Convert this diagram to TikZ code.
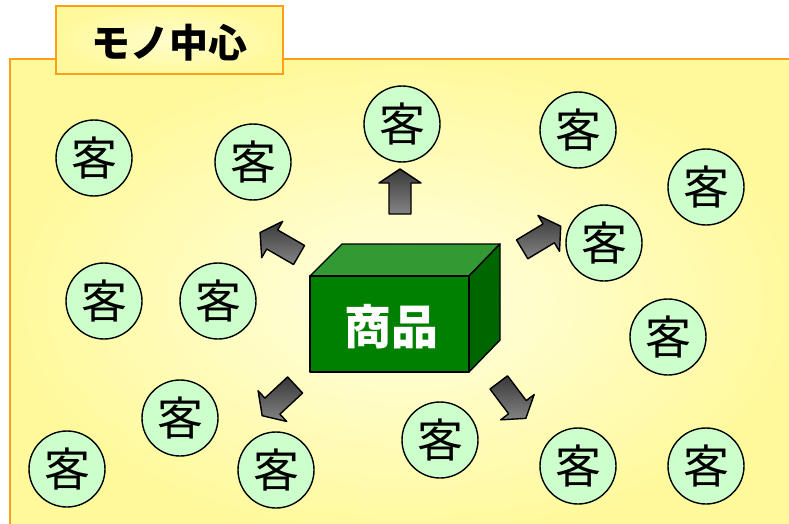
\documentclass[tikz,border=0pt]{standalone}
\usepackage{fontspec}
\newfontfamily\jpfont{Noto Sans CJK JP}
\definecolor{panelY}{HTML}{FFF99C}
\definecolor{panelC}{HTML}{FFFFE2}
\definecolor{edgeO}{HTML}{FF9E1A}
\definecolor{custG}{HTML}{CCFFCC}
\definecolor{frontG}{HTML}{008000}
\definecolor{topG}{HTML}{339933}
\definecolor{sideG}{HTML}{006600}
\tikzset{
  cust/.style={circle, draw=black, line width=1.4pt, fill=custG, minimum size=76pt, inner sep=0pt, font=\jpfont\fontsize{46}{46}\selectfont},
  boxface/.style={draw=black, line width=1.4pt, line join=round},
  arrowshape/.style={draw=black, line width=1.4pt, line join=round, top color=black!78, bottom color=black!48},
  barrow/.pic={\path[arrowshape] (-22,-11) -- (9,-11) -- (9,-21) -- (23,0) -- (9,21) -- (9,11) -- (-22,11) -- cycle;}
}
\begin{document}
\begin{tikzpicture}[x=1pt,y=-1pt]
\useasboundingbox (0,0) rectangle (789,524);
\begin{scope}
\clip (0,0) rectangle (789,524);
% panel
\path[shading=radial, inner color=panelC, outer color=panelY] (10,59) rectangle (800,540);
\draw[edgeO, line width=2pt] (800,59) -- (10,59) -- (10,540);
% title tab
\path[shading=radial, inner color=panelC!70!panelY, outer color=panelY] (56,6) rectangle (283,74);
\draw[edgeO, line width=2pt] (56,6) rectangle (283,74);
\node (title) at (169.5,43) {\jpfont\fontsize{39}{39}\selectfont\bfseries モノ中心};
% product box
\draw[boxface, fill=topG] (310,276) -- (342,244) -- (500,244) -- (469,276) -- cycle;
\draw[boxface, fill=sideG] (469,276) -- (500,244) -- (500,340) -- (469,372) -- cycle;
\draw[boxface, fill=frontG] (310,276) rectangle (469,372);
\node[text=white] (product) at (391,327) {\jpfont\fontsize{47}{47}\selectfont\bfseries 商品};
% arrows
\pic at (400,192) [rotate=90] {barrow};
\pic at (280,244) [rotate=150] {barrow};
\pic at (541,238) [rotate=31] {barrow};
\pic at (279,400) [rotate=223] {barrow};
\pic at (512,400) [rotate=-53] {barrow};
% customers
\node[cust] (c1) at (94,158) {客};
\node[cust] (c2) at (253,162) {客};
\node[cust] (c3) at (402,124) {客};
\node[cust] (c4) at (578,130) {客};
\node[cust] (c5) at (706,187) {客};
\node[cust] (c6) at (604,243) {客};
\node[cust] (c7) at (104,301) {客};
\node[cust] (c8) at (218,301) {客};
\node[cust] (c9) at (668,337) {客};
\node[cust] (c10) at (180,418) {客};
\node[cust] (c11) at (440,440) {客};
\node[cust] (c12) at (67,469) {客};
\node[cust] (c13) at (276,470) {客};
\node[cust] (c14) at (578,466) {客};
\node[cust] (c15) at (706,466) {客};
\end{scope}
\end{tikzpicture}
\end{document}
